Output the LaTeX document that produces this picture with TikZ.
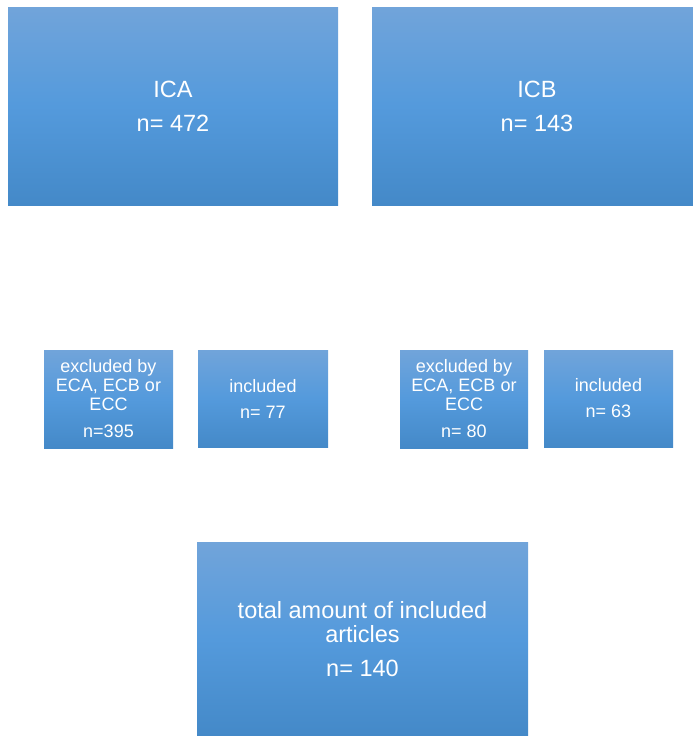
\documentclass[tikz,border=0pt]{standalone}
\usepackage{fontspec}
\setmainfont{Liberation Sans}
\definecolor{bxtop}{RGB}{113,164,218}
\definecolor{bxmid}{RGB}{84,154,220}
\definecolor{bxbot}{RGB}{68,137,200}
\tikzset{
  bx/.style={rectangle, inner sep=0pt, outer sep=0pt, anchor=north west,
    top color=bxtop, bottom color=bxbot, middle color=bxmid,
    text=white, align=center},
  bigbx/.style={bx, font=\fontsize{23.5}{24}\selectfont},
  smallbx/.style={bx, font=\fontsize{18}{19}\selectfont},
}
\begin{document}
\begin{tikzpicture}[x=1pt,y=-1pt]
\useasboundingbox (0,0) rectangle (693,736);
\begin{scope}
\clip (0,0) rectangle (693,736);
\node[bigbx, minimum width=330pt, minimum height=198pt] (ica) at (8,7) {ICA\\[10pt]n= 472};
\node[bigbx, minimum width=330pt, minimum height=198pt] (icb) at (372,7) {ICB\\[10pt]n= 143};
\node[smallbx, minimum width=129pt, minimum height=98pt] (exa) at (44,350) {excluded by\\ECA, ECB or\\ECC\\[8pt]n=395};
\node[smallbx, minimum width=130pt, minimum height=97pt] (ina) at (198,350) {included\\[7pt]n= 77};
\node[smallbx, minimum width=128pt, minimum height=98pt] (exb) at (400,350) {excluded by\\ECA, ECB or\\ECC\\[8pt]n= 80};
\node[smallbx, minimum width=129pt, minimum height=97pt] (inb) at (544,350) {included\\[7pt]n= 63};
\node[bigbx, minimum width=331pt, minimum height=194pt] (tot) at (197,542) {total amount of included\\articles\\[10pt]n= 140};
\end{scope}
\end{tikzpicture}
\end{document}
